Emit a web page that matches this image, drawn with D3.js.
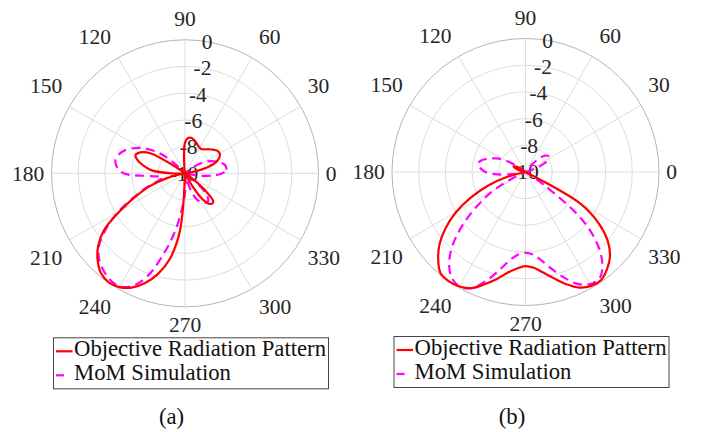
<!DOCTYPE html>
<html>
<head>
<meta charset="utf-8">
<script src="https://cdn.jsdelivr.net/npm/d3@7"></script>
<style>
  html, body { margin: 0; padding: 0; background: #fff; }
  svg { display: block; }
</style>
</head>
<body>
<svg id="chart" width="702" height="432"></svg>
<script>
// Azimuth samples (degrees) shared by every pattern
const angles = [
  0, 5, 10, 15, 20, 25, 30, 35, 40, 45, 50, 55,
  60, 65, 70, 75, 80, 85, 90, 95, 100, 105, 110, 115,
  120, 125, 130, 135, 140, 145, 150, 155, 160, 165, 170, 175,
  180, 185, 190, 195, 200, 205, 210, 215, 220, 225, 230, 235,
  240, 245, 250, 255, 260, 265, 270, 275, 280, 285, 290, 295,
  300, 305, 310, 315, 320, 325, 330, 335, 340, 345, 350, 355
];

// Panel (a): normalised gain in dB
const objectiveA = [
  -10, -10, -9.4, -8.3, -7.5, -7.15, -7.0, -7.05, -7.25, -7.45, -7.65, -7.8,
  -7.8, -7.7, -7.55, -7.4, -7.3, -7.35, -7.7, -9.3, -10, -10, -10, -10,
  -10, -10, -10, -10, -10, -9.3, -7.0, -6.3, -6.05, -6.35, -6.9, -7.5,
  -9.0, -10, -10, -8.6, -7.2, -5.95, -4.4, -2.6, -1.5, -0.75, -0.22, -0.03,
  -0.15, -0.55, -1.25, -2.2, -3.5, -5.7, -10, -10, -10, -10, -10, -10,
  -8.9, -7.5, -7.0, -7.0, -8.1, -9.5, -10, -10, -10, -10, -10, -10
];
const momA = [
  -7.2, -6.9, -6.9, -7.1, -7.45, -7.85, -8.3, -9.0, -9.8, -10, -10, -10,
  -10, -10, -10, -10, -10, -10, -10, -10, -10, -10, -10, -10,
  -10, -10, -10, -9.5, -7.9, -7.0, -6.2, -5.6, -5.1, -4.8, -4.7, -4.9,
  -5.4, -7.5, -8.3, -8.0, -7.0, -5.8, -4.2, -2.8, -1.6, -0.9, -0.5, -0.25,
  -0.2, -0.7, -1.8, -3.7, -5.5, -7.3, -8.5, -9.5, -9.8, -9.5, -8.4, -7.8,
  -7.5, -7.3, -7.3, -7.7, -8.7, -10, -10, -10, -10, -10, -9.0, -8.0
];

// Panel (b): normalised gain in dB
const objectiveB = [
  -10, -10, -10, -10, -10, -10, -10, -10, -10, -10, -10, -10,
  -10, -10, -10, -10, -10, -10, -10, -10, -10, -10, -10, -10,
  -10, -10, -10, -10, -10, -9.6, -9.2, -9.0, -9.2, -9.6, -10, -10,
  -10, -10, -10, -8.6, -7.0, -5.5, -4.0, -2.7, -1.6, -0.75, -0.1, 0,
  -0.1, -0.4, -1.05, -1.7, -2.35, -2.75, -2.95, -2.8, -2.35, -1.75, -1.05, -0.45,
  -0.15, -0.12, -0.5, -1.05, -1.95, -3.3, -5.2, -10, -10, -10, -10, -10
];
const momB = [
  -10, -10, -10, -10, -9.2, -8.4, -8.0, -7.9, -8.1, -8.6, -9.4, -10,
  -10, -10, -10, -10, -10, -10, -10, -10, -10, -10, -10, -10,
  -10, -10, -10, -10, -10, -9.3, -8.3, -7.6, -7.1, -6.6, -6.4, -6.6,
  -7.0, -7.9, -9.2, -10, -10, -9.2, -7.2, -5.6, -3.9, -2.3, -1.1, -0.35,
  -0.1, -0.4, -1.3, -2.4, -3.3, -3.8, -3.95, -3.8, -3.3, -2.5, -1.6, -0.75,
  -0.3, -0.3, -1.05, -2.4, -4.5, -8.3, -10, -10, -10, -10, -10, -10
];

const angleTicks = [0, 30, 60, 90, 120, 150, 180, 210, 240, 270, 300, 330];
const radialTicks = [0, -2, -4, -6, -8, -10];
const seriesNames = ["Objective Radiation Pattern", "MoM Simulation"];
const captions = ["(a)", "(b)"];

const R = 133.5;
const serifFont = "'Liberation Serif', 'DejaVu Serif', serif";
const tickFont = 21.5;
const legendFont = 22.7;
const red = "#ff0000", magenta = "#ff00ff";
const dash = "9,5.5";

const svg = d3.select("#chart")
  .attr("font-family", serifFont);
const rad = d => d * Math.PI / 180;

const r = d3.scaleLinear().domain([-10, 0]).range([0, R]).clamp(true);

const line = d3.lineRadial()
  .angle(d => rad(90 - d.theta))
  .radius(d => r(d.value))
  .curve(d3.curveCatmullRomClosed.alpha(0.5));

function label(sel, size, color) {
  return sel.attr("font-family", serifFont)
    .attr("font-size", size)
    .attr("fill", color);
}

function drawPanel(cx, cy, objective, mom, caption) {
  const g = svg.append("g").attr("transform", `translate(${cx},${cy})`);

  // concentric dB rings
  g.append("g").selectAll("circle")
    .data(radialTicks.filter(v => v > -10))
    .join("circle")
    .attr("r", d => r(d))
    .attr("fill", "none")
    .attr("stroke", d => d === 0 ? "#b4b4b4" : "#dddddd")
    .attr("stroke-width", 1);

  // angular spokes
  g.append("g").selectAll("line")
    .data(angleTicks)
    .join("line")
    .attr("x1", 0).attr("y1", 0)
    .attr("x2", d => R * Math.cos(rad(d)))
    .attr("y2", d => -R * Math.sin(rad(d)))
    .attr("stroke", "#dddddd")
    .attr("stroke-width", 1);

  // angle labels around the rim
  const hh = 0.338 * tickFont;
  label(g.append("g").selectAll("text")
    .data(angleTicks)
    .join("text"), tickFont, "#262626")
    .attr("text-anchor", "middle")
    .text(d => d)
    .each(function (d) {
      const w = this.getComputedTextLength();
      const c = Math.cos(rad(d)), s = Math.sin(rad(d));
      const ex = Math.abs(c) < 1e-6 ? 0 : Math.sign(c) * (w / 2 + 7.25);
      const ey = Math.abs(s) < 1e-6 ? 0 : Math.sign(s) * (hh + (s > 0 ? 13.75 : 10.75));
      d3.select(this)
        .attr("x", R * c + ex)
        .attr("y", -(R * s + ey) + hh);
    });

  // dB labels along the 80 degree direction
  label(g.append("g").selectAll("text")
    .data(radialTicks)
    .join("text"), tickFont, "#262626")
    .attr("text-anchor", "middle")
    .attr("x", d => r(d) * Math.cos(rad(80)) - 1)
    .attr("y", d => -r(d) * Math.sin(rad(80)) + hh)
    .text(d => d);

  const toPts = vals => angles.map((a, i) => ({ theta: a, value: vals[i] }));

  g.append("path")
    .attr("d", line(toPts(mom)))
    .attr("fill", "none")
    .attr("stroke", magenta)
    .attr("stroke-width", 2.2)
    .attr("stroke-dasharray", dash);

  g.append("path")
    .attr("d", line(toPts(objective)))
    .attr("fill", "none")
    .attr("stroke", red)
    .attr("stroke-width", 2.2)
    .attr("stroke-linejoin", "round");

  // legend
  const lg = g.append("g").attr("transform", `translate(${-131.5},${164.5})`);
  lg.append("rect")
    .attr("width", 275).attr("height", 51)
    .attr("fill", "#fff")
    .attr("stroke", "#444")
    .attr("stroke-width", 1);
  const rows = [
    { name: seriesNames[0], color: red, len: 16.5 },
    { name: seriesNames[1], color: magenta, len: 8 }
  ];
  rows.forEach((row, i) => {
    const y = 13.5 + i * 24;
    lg.append("line")
      .attr("x1", 2.5).attr("x2", 2.5 + row.len)
      .attr("y1", y).attr("y2", y)
      .attr("stroke", row.color).attr("stroke-width", 2.2);
    label(lg.append("text"), legendFont, "#111")
      .attr("x", 20.5).attr("y", y + 5)
      .text(row.name);
  });

  // panel caption
  label(g.append("text"), legendFont, "#111")
    .attr("x", -13.5).attr("y", 424 - cy)
    .attr("text-anchor", "middle")
    .text(caption);
}

drawPanel(185, 173.3, objectiveA, momA, captions[0]);
drawPanel(525.5, 172, objectiveB, momB, captions[1]);
</script>
</body>
</html>
